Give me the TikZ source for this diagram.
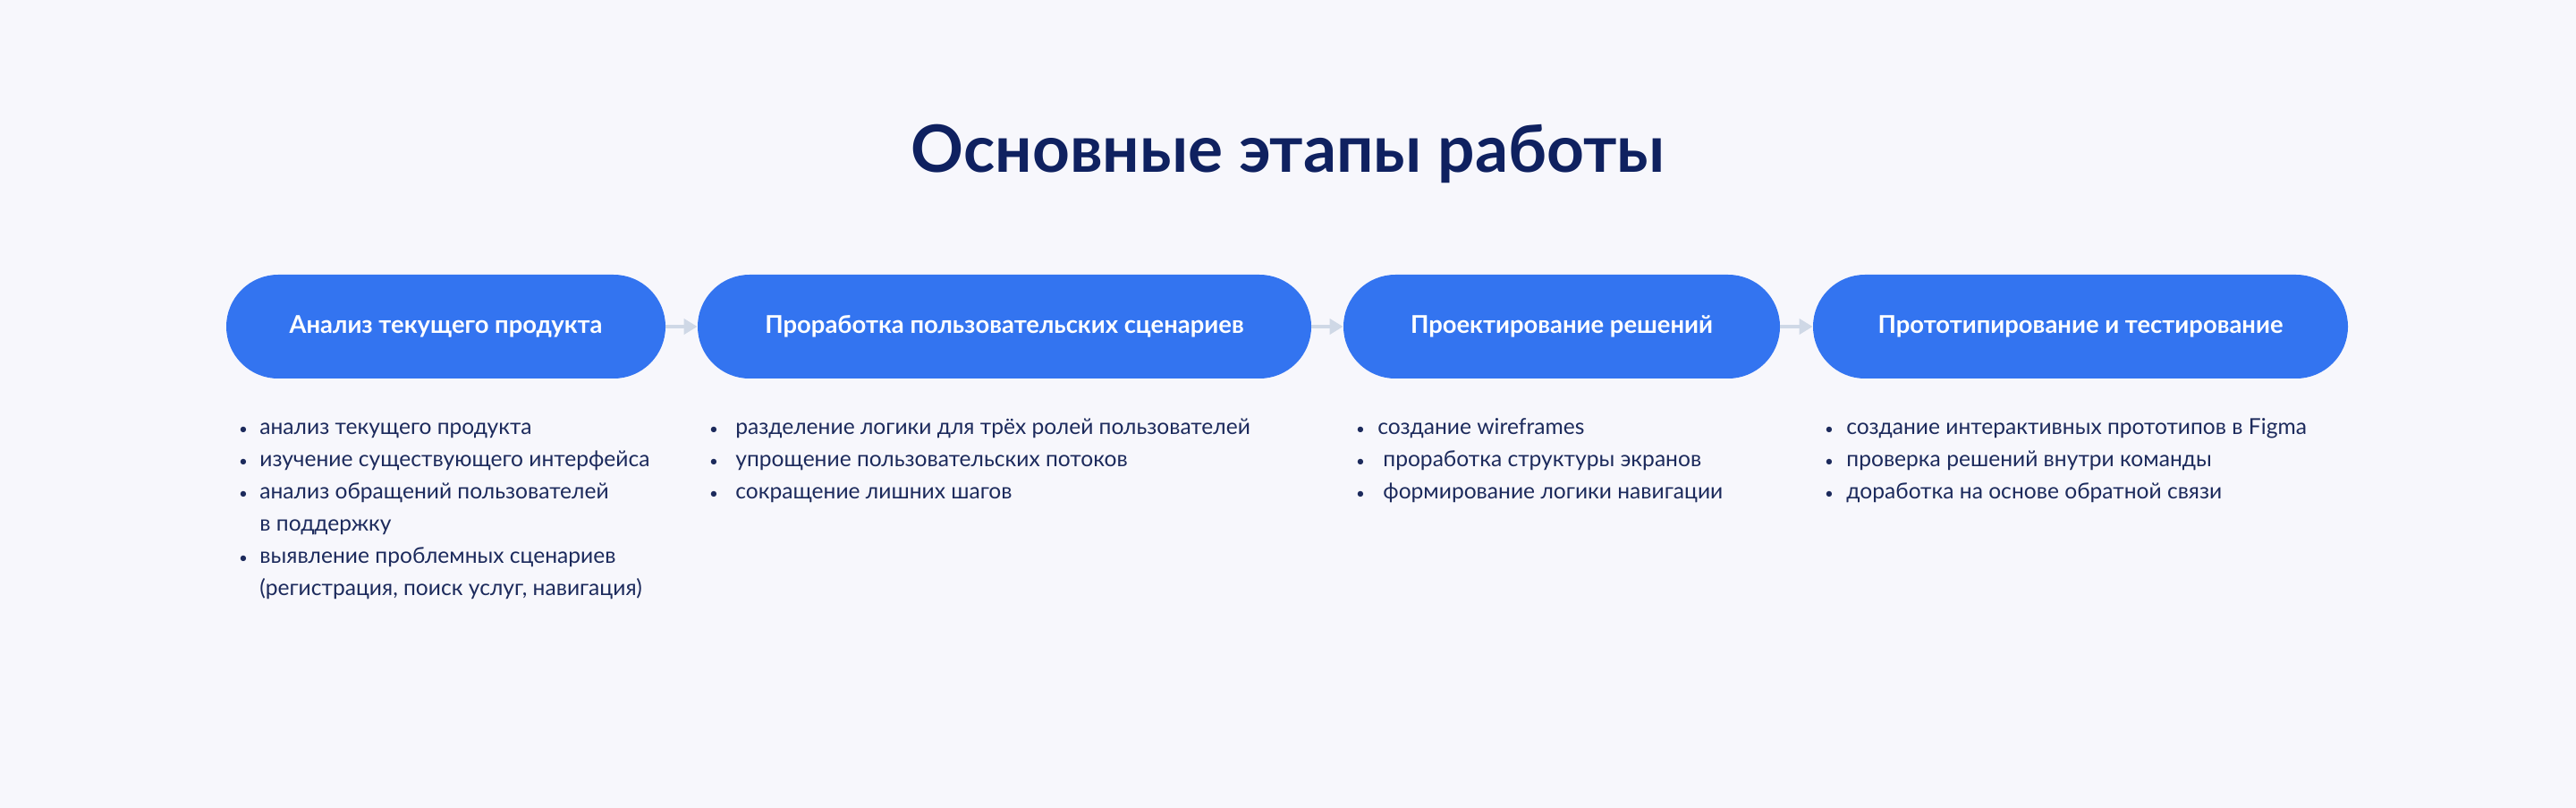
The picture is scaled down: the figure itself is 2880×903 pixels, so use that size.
\documentclass[tikz,border=0pt]{standalone}
\usepackage{fontspec}
\setmainfont{Lato}
\usetikzlibrary{shapes.misc,arrows.meta}
\definecolor{bg}{HTML}{F7F7FC}
\definecolor{boxblue}{HTML}{3374F0}
\definecolor{navy}{HTML}{0F2160}
\definecolor{itemtxt}{HTML}{1C2A5C}
\definecolor{arrowc}{HTML}{CFD8E6}
\tikzset{
  stage/.style={rounded rectangle, fill=boxblue, text=white, inner sep=0pt,
    minimum height=58pt, font=\fontsize{13.7}{16}\selectfont\bfseries},
  item/.style={anchor=base west, inner sep=0pt, text=itemtxt, font=\fontsize{12.3}{15}\selectfont},
  dot/.style={anchor=base, inner sep=0pt, text=itemtxt, font=\fontsize{8.5}{11}\selectfont},
  flow/.style={draw=arrowc, line width=2pt, -{Triangle[length=7.5pt,width=8.5pt]}},
  heading/.style={anchor=base, inner sep=0pt, text=navy, font=\fontsize{36.5}{42}\selectfont\bfseries}
}
\begin{document}
\begin{tikzpicture}[x=0.5pt,y=-0.5pt]
\fill[bg] (0,0) rectangle (2880,903);
\useasboundingbox (0,0) rectangle (2880,903);
\node[heading] (title) at (1440,193) {Основные этапы работы};
\node[stage, minimum width=245.5pt] (b1) at (498.5,365) {Анализ текущего продукта};
\node[stage, minimum width=343pt] (b2) at (1123,365) {Проработка пользовательских сценариев};
\node[stage, minimum width=244pt] (b3) at (1746,365) {Проектирование решений};
\node[stage, minimum width=299pt] (b4) at (2326,365) {Прототипирование и тестирование};
\draw[flow] (b1.east) -- (b2.west);
\draw[flow] (b2.east) -- (b3.west);
\draw[flow] (b3.east) -- (b4.west);
% column 1
\node[dot] (d11) at (272,485) {•};
\node[item] (t11) at (290,485) {анализ текущего продукта};
\node[dot] (d12) at (272,521) {•};
\node[item] (t12) at (290,521) {изучение существующего интерфейса};
\node[dot] (d13) at (272,557) {•};
\node[item] (t13) at (290,557) {анализ обращений пользователей};
\node[item] (t13b) at (290,593) {в поддержку};
\node[dot] (d14) at (272,629) {•};
\node[item] (t14) at (290,629) {выявление проблемных сценариев};
\node[item] (t14b) at (290,665) {(регистрация, поиск услуг, навигация)};
% column 2
\node[dot] (d21) at (798,485) {•};
\node[item] (t21) at (822,485) {разделение логики для трёх ролей пользователей};
\node[dot] (d22) at (798,521) {•};
\node[item] (t22) at (822,521) {упрощение пользовательских потоков};
\node[dot] (d23) at (798,557) {•};
\node[item] (t23) at (822,557) {сокращение лишних шагов};
% column 3
\node[dot] (d31) at (1521,485) {•};
\node[item] (t31) at (1540,485) {создание wireframes};
\node[dot] (d32) at (1521,521) {•};
\node[item] (t32) at (1546,521) {проработка структуры экранов};
\node[dot] (d33) at (1521,557) {•};
\node[item] (t33) at (1546,557) {формирование логики навигации};
% column 4
\node[dot] (d41) at (2045,485) {•};
\node[item] (t41) at (2064,485) {создание интерактивных прототипов в Figma};
\node[dot] (d42) at (2045,521) {•};
\node[item] (t42) at (2064,521) {проверка решений внутри команды};
\node[dot] (d43) at (2045,557) {•};
\node[item] (t43) at (2064,557) {доработка на основе обратной связи};
\end{tikzpicture}
\end{document}
